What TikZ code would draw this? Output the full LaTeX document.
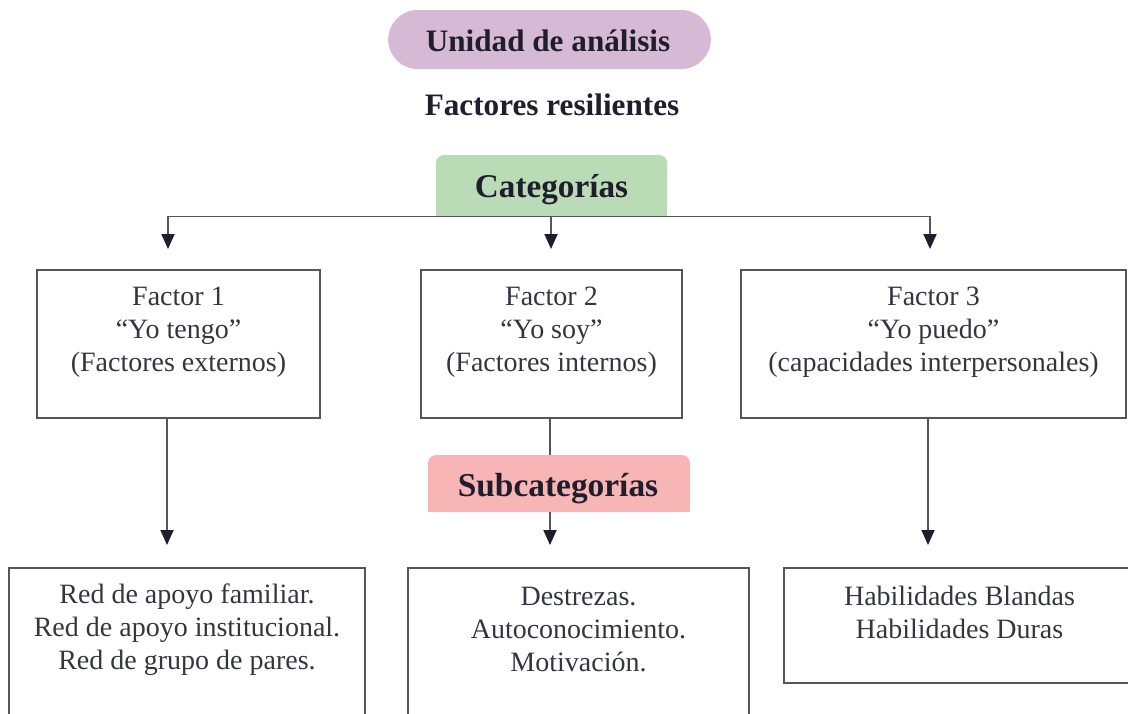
\documentclass[tikz,border=0pt]{standalone}
\usepackage{fontspec}
\setmainfont{Liberation Serif}
\usepackage{xcolor}
\usetikzlibrary{shapes.misc, positioning, arrows.meta}

\definecolor{unidadpink}{RGB}{214,186,213}
\definecolor{catgreen}{RGB}{185,220,183}
\definecolor{subred}{RGB}{247,181,182}
\definecolor{boxgray}{RGB}{85,85,90}
\definecolor{inkdark}{RGB}{30,30,45}

\begin{document}
\begin{tikzpicture}[x=0.5pt, y=-0.5pt,
        box/.style={draw=boxgray, line width=1pt, inner sep=0pt},
        txt/.style={align=center, text=inkdark!90, font=\fontsize{14}{16.5}\selectfont},
        title/.style={text=inkdark, font=\fontsize{15.6}{18}\selectfont\bfseries},
        link/.style={draw=boxgray, line width=0.9pt},
        arr/.style={link, -{Triangle[width=6.5pt, length=7.5pt, color=inkdark]}}]
        \useasboundingbox (0, 0) rectangle (1128, 713);

        \node[rounded rectangle, fill=unidadpink, minimum width=168pt, minimum height=29.5pt] (unidad) at (549.5, 39.5) {};
        \node[title] (unidadt) at (548, 41) {Unidad de análisis};
        \node[title] (resil) at (552, 105) {Factores resilientes};

        \node[fill=catgreen, rounded corners=4pt, minimum width=115.5pt, minimum height=30.5pt] (cat) at (551.5, 185.5) {};
        \fill[catgreen] (cat.west) rectangle (cat.south east);
        \node[title, font=\fontsize{16.6}{19}\selectfont\bfseries] (catt) at (551.5, 190) {Categorías};

        \node[box, minimum width=141.5pt, minimum height=74pt] (f1) at (178.5, 344) {};
        \node[box, minimum width=130.5pt, minimum height=74pt] (f2) at (551.5, 344) {};
        \node[box, minimum width=192.5pt, minimum height=74pt] (f3) at (933.5, 344) {};
        \node[txt] (f1t) at (178.5, 332) {Factor 1\\“Yo tengo”\\(Factores externos)};
        \node[txt] (f2t) at (551.5, 332) {Factor 2\\“Yo soy”\\(Factores internos)};
        \node[txt] (f3t) at (933.5, 332) {Factor 3\\“Yo puedo”\\(capacidades interpersonales)};

        \node[fill=subred, rounded corners=4pt, minimum width=131pt, minimum height=28.5pt] (sub) at (559, 483.5) {};
        \fill[subred] (sub.west) rectangle (sub.south east);
        \node[title, font=\fontsize{16.7}{19}\selectfont\bfseries] (subt) at (558, 489) {Subcategorías};

        \node[box, minimum width=178pt, minimum height=81pt] (s1) at (187, 649) {};
        \node[box, minimum width=170.5pt, minimum height=81pt] (s2) at (578.5, 649) {};
        \node[box, minimum width=175.5pt, minimum height=57.5pt] (s3) at (959.5, 625.5) {};
        \node[txt] (s1t) at (187, 630) {Red de apoyo familiar.\\Red de apoyo institucional.\\Red de grupo de pares.};
        \node[txt] (s2t) at (578.5, 630) {Destrezas.\\Autoconocimiento.\\Motivación.};
        \node[txt] (s3t) at (959.5, 612) {Habilidades Blandas\\Habilidades Duras};

        \coordinate (t1) at (168, 249);
        \coordinate (t2) at (551, 249);
        \coordinate (t3) at (930, 249);
        \coordinate (b1) at (167, 545);
        \coordinate (b2) at (550, 545);
        \coordinate (b3) at (928, 545);

        \draw[link] (t1 |- cat.south) -- (t3 |- cat.south);
        \draw[arr] (t1 |- cat.south) -- (t1);
        \draw[arr] (t2 |- cat.south) -- (t2);
        \draw[arr] (t3 |- cat.south) -- (t3);

        \draw[arr] (f1.south -| b1) -- (b1);
        \draw[link] (f2.south -| b2) -- (sub.north -| b2);
        \draw[arr] (sub.south -| b2) -- (b2);
        \draw[arr] (f3.south -| b3) -- (b3);
    \end{tikzpicture}
\end{document}
